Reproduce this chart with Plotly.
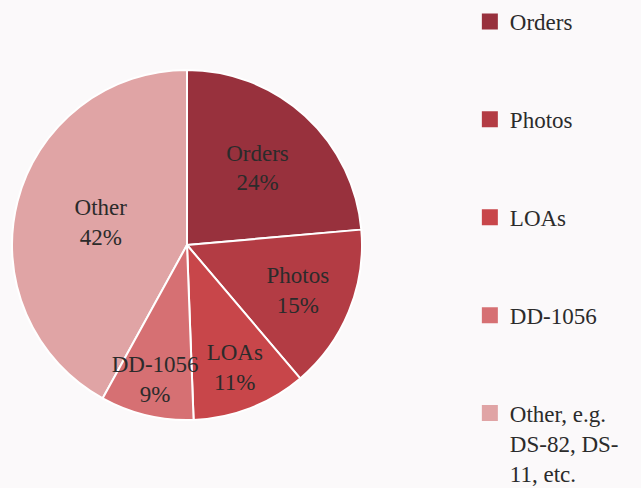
import plotly.graph_objects as go

categories = ["Orders", "Photos", "LOAs", "DD-1056", "Other"]
legend_labels = ["Orders", "Photos", "LOAs", "DD-1056", "Other, e.g.<br>DS-82, DS-<br>11, etc."]
values = [23.6, 15.2, 10.6, 8.6, 42.0]
colors = ["#98313D", "#B33C44", "#C8464A", "#D67073", "#E0A4A5"]

FONT = "Liberation Serif"
BG = "#FBF9FA"

# draw "Other" first so the labels of the later (smaller) slices sit on top of it
order = [4, 0, 1, 2, 3]
total = sum(values)
start_rot = -values[4] / total * 360

fig = go.Figure()
fig.add_trace(go.Pie(
    labels=[categories[i] for i in order],
    values=[values[i] for i in order],
    text=[categories[i] for i in order],
    sort=False,
    direction="clockwise",
    rotation=start_rot,
    marker=dict(colors=[colors[i] for i in order], line=dict(color="white", width=2)),
    texttemplate="%{text}<br>%{percent:.0%}",
    textposition="inside",
    insidetextorientation="horizontal",
    textfont=dict(family=FONT, size=23, color="#2b2b2b"),
    showlegend=False,
    hoverinfo="label+percent",
    domain=dict(x=[12/641, 362/641], y=[1-420/488, 1-70/488]),
))

for i, (name, c) in enumerate(zip(legend_labels, colors)):
    fig.add_trace(go.Scatter(
        x=[None], y=[None], mode="markers", name=name,
        marker=dict(symbol="square", size=16, color=c),
        legendgroup=f"g{i}", showlegend=True,
    ))

fig.update_layout(
    width=641, height=488,
    margin=dict(l=0, r=0, t=0, b=0),
    font=dict(family=FONT, size=23, color="#2b2b2b"),
    paper_bgcolor=BG, plot_bgcolor=BG,
    xaxis=dict(visible=False), yaxis=dict(visible=False),
    uniformtext=dict(minsize=23, mode="show"),
    legend=dict(
        x=0.733, y=1.0, xanchor="left", yanchor="top",
        font=dict(family=FONT, size=23, color="#2b2b2b"),
        tracegroupgap=65, itemwidth=30, valign="top",
        bgcolor="rgba(0,0,0,0)", maxheight=800,
    ),
)

fig.write_html(
    "out.html",
    config={"displayModeBar": False},
    post_script="document.body.style.margin='0';document.body.style.overflow='hidden';",
)
